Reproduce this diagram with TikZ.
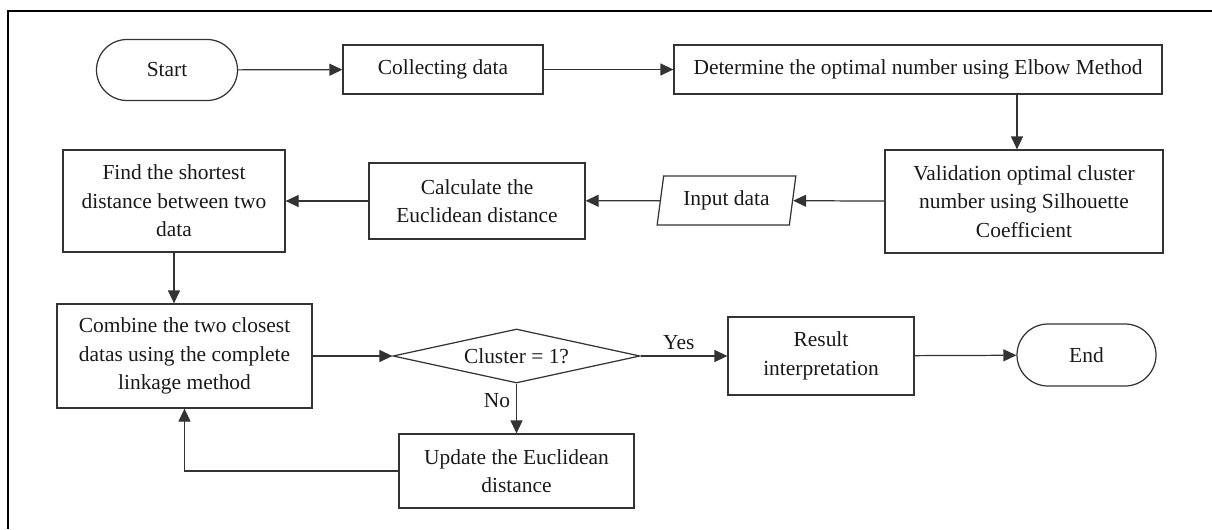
\documentclass[tikz,border=0pt]{standalone}
\usepackage{fontspec}
\setmainfont{Liberation Serif}
\usetikzlibrary{arrows.meta,shapes.geometric,shapes.misc}
\definecolor{lineclr}{gray}{0.2}
\definecolor{textclr}{gray}{0.1}

\begin{document}
\begin{tikzpicture}[
    every node/.style={font=\fontsize{12.2}{16.2}\selectfont, text=textclr, align=center},
    box/.style={draw=lineclr, line width=0.7pt, rectangle, inner sep=0pt},
    term/.style={draw=lineclr, line width=0.7pt, rounded rectangle, inner sep=0pt},
    io/.style={draw=lineclr, line width=0.7pt, trapezium, trapezium left angle=77, trapezium right angle=103, trapezium stretches=true, inner sep=0pt},
    decision/.style={draw=lineclr, line width=0.7pt, diamond, shape aspect=4.57, inner sep=0pt},
    flow/.style={lineclr, line width=0.7pt, -{Triangle[length=0.26cm,width=0.24cm]}}
]
\useasboundingbox (0,0) rectangle (24.24,10.58);
\draw[line width=0.85pt] (0.16,0) -- (0.16,10.36) -- (24.24,10.36);

\node[term, minimum width=2.82cm, minimum height=1.22cm] (start) at (3.34,9.18) {Start};
\node[box, minimum width=4.0cm, minimum height=0.98cm] (collect) at (8.86,9.19) {Collecting data\vphantom{C}};
\node[box, minimum width=9.76cm, minimum height=0.98cm] (elbow) at (18.36,9.19) {Determine the optimal number using Elbow Method};
\node[box, minimum width=5.56cm, minimum height=2.06cm] (valid) at (20.48,6.55) {Validation optimal cluster\\ number using Silhouette\\ Coefficient};
\node[io, minimum width=2.78cm, minimum height=0.98cm] (input) at (14.53,6.57) {Input data};
\node[box, minimum width=4.32cm, minimum height=1.52cm] (calc) at (9.54,6.56) {Calculate the\\ Euclidean distance};
\node[box, minimum width=4.44cm, minimum height=2.04cm] (find) at (3.48,6.56) {Find the shortest\\ distance between two\\ data};
\node[box, minimum width=5.10cm, minimum height=2.08cm] (combine) at (3.69,3.46) {Combine the two closest\\ datas using the complete\\ linkage method};
\node[decision, minimum width=4.94cm, minimum height=1.08cm] (check) at (10.33,3.46) {Cluster = 1?};
\node[box, minimum width=3.72cm, minimum height=1.56cm] (result) at (16.42,3.46) {Result\\ interpretation};
\node[term, minimum width=2.78cm, minimum height=1.24cm] (end) at (21.73,3.48) {End};
\node[box, minimum width=4.70cm, minimum height=1.48cm] (update) at (10.33,1.16) {Update the Euclidean\\ distance};

% connectors
\draw[flow] (start) -- (collect);
\draw[flow] (collect) -- (elbow);
\draw[flow] ([xshift=-0.14cm]valid.north |- elbow.south) -- ([xshift=-0.14cm]valid.north);
\draw[flow] (valid) -- (input);
\draw[flow] (input) -- (calc);
\draw[flow] (calc) -- (find);
\draw[flow] (find.south) -- (find.south |- combine.north);
\draw[flow] (combine) -- (check);
\draw[flow] (check) -- node[above, pos=0.44] {Yes} (result);
\draw[flow] (result) -- (end);
\draw[flow] (check) -- node[left, pos=0.35] {No} (update);
\draw[flow] (update.west) -| (combine.south);

\end{tikzpicture}
\end{document}
